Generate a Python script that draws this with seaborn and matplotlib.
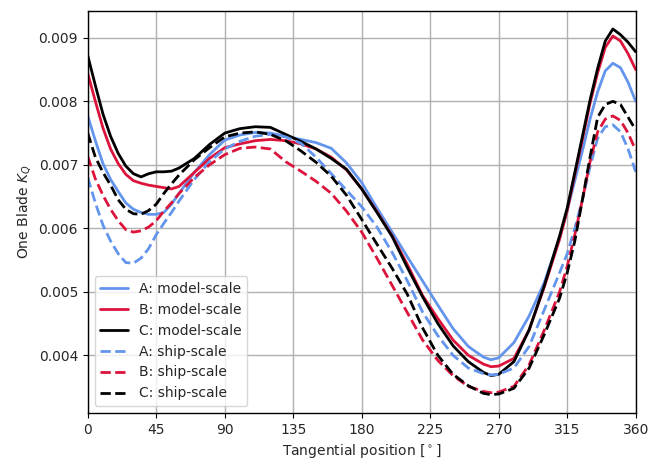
import numpy as np
import pandas as pd
import matplotlib
matplotlib.use("Agg")
import matplotlib.pyplot as plt
import seaborn as sns

angle = [0, 5, 10, 15, 20, 25, 30, 35, 40, 45, 50, 55, 60, 70, 80, 90, 100, 110, 120,
         130, 140, 150, 160, 170, 180, 190, 200, 210, 220, 230, 240, 250, 260, 265, 270,
         280, 290, 300, 310, 315, 320, 325, 330, 335, 340, 345, 350, 355, 360]

a_model = [0.00777, 0.00738, 0.00702, 0.00677, 0.00658, 0.00640, 0.00630, 0.00625, 0.00622, 0.00622,
           0.00625, 0.00638, 0.00655, 0.00688, 0.00716, 0.00739, 0.00747, 0.00751, 0.00750,
           0.00745, 0.00740, 0.00735, 0.00726, 0.00703, 0.00672, 0.00632, 0.00594, 0.00555,
           0.00517, 0.00479, 0.00442, 0.00414, 0.00397, 0.00393, 0.00396,
           0.00420, 0.00462, 0.00515, 0.00585, 0.00628, 0.00675, 0.00722, 0.00772, 0.00815,
           0.00848, 0.00860, 0.00853, 0.00830, 0.00800]

b_model = [0.00844, 0.00800, 0.00758, 0.00725, 0.00702, 0.00685, 0.00675, 0.00671, 0.00668, 0.00666,
           0.00664, 0.00662, 0.00666, 0.00688, 0.00710, 0.00727, 0.00733, 0.00738, 0.00740,
           0.00738, 0.00733, 0.00725, 0.00712, 0.00692, 0.00662, 0.00626, 0.00588, 0.00543,
           0.00494, 0.00458, 0.00424, 0.00400, 0.00386, 0.00382, 0.00383,
           0.00395, 0.00440, 0.00508, 0.00583, 0.00628, 0.00685, 0.00740, 0.00797, 0.00845,
           0.00885, 0.00903, 0.00895, 0.00875, 0.00850]

c_model = [0.00872, 0.00825, 0.00780, 0.00745, 0.00718, 0.00698, 0.00686, 0.00681, 0.00686, 0.00689,
           0.00689, 0.00690, 0.00695, 0.00710, 0.00732, 0.00750, 0.00757, 0.00760, 0.00759,
           0.00748, 0.00737, 0.00725, 0.00710, 0.00693, 0.00662, 0.00625, 0.00587, 0.00538,
           0.00492, 0.00450, 0.00415, 0.00390, 0.00373, 0.00368, 0.00370,
           0.00390, 0.00440, 0.00510, 0.00588, 0.00632, 0.00688, 0.00745, 0.00802, 0.00852,
           0.00895, 0.00914, 0.00905, 0.00893, 0.00878]

a_ship = [0.00680, 0.00640, 0.00605, 0.00580, 0.00560, 0.00546, 0.00545, 0.00553, 0.00568, 0.00590,
          0.00608, 0.00625, 0.00643, 0.00677, 0.00705, 0.00725, 0.00737, 0.00745, 0.00748,
          0.00744, 0.00734, 0.00712, 0.00686, 0.00660, 0.00634, 0.00602, 0.00562, 0.00517,
          0.00468, 0.00431, 0.00400, 0.00380, 0.00371, 0.00369, 0.00370,
          0.00380, 0.00414, 0.00472, 0.00530, 0.00560, 0.00600, 0.00645, 0.00697, 0.00742,
          0.00760, 0.00763, 0.00752, 0.00725, 0.00689]

b_ship = [0.00713, 0.00678, 0.00652, 0.00630, 0.00612, 0.00598, 0.00594, 0.00596, 0.00602, 0.00612,
          0.00627, 0.00640, 0.00655, 0.00680, 0.00700, 0.00716, 0.00726, 0.00728, 0.00725,
          0.00705, 0.00690, 0.00674, 0.00655, 0.00627, 0.00594, 0.00553, 0.00510, 0.00467,
          0.00424, 0.00392, 0.00368, 0.00351, 0.00343, 0.00341, 0.00342,
          0.00351, 0.00385, 0.00440, 0.00500, 0.00540, 0.00590, 0.00645, 0.00705, 0.00752,
          0.00772, 0.00777, 0.00770, 0.00750, 0.00723]

c_ship = [0.00750, 0.00712, 0.00688, 0.00668, 0.00645, 0.00630, 0.00623, 0.00622, 0.00628, 0.00638,
          0.00655, 0.00670, 0.00684, 0.00708, 0.00727, 0.00744, 0.00750, 0.00752, 0.00748,
          0.00738, 0.00722, 0.00704, 0.00682, 0.00652, 0.00614, 0.00575, 0.00537, 0.00496,
          0.00443, 0.00400, 0.00370, 0.00352, 0.00340, 0.00338, 0.00339,
          0.00348, 0.00380, 0.00433, 0.00490, 0.00530, 0.00580, 0.00645, 0.00712, 0.00775,
          0.00795, 0.00800, 0.00795, 0.00775, 0.00755]

labels = ["A: model-scale", "B: model-scale", "C: model-scale",
          "A: ship-scale", "B: ship-scale", "C: ship-scale"]
series = [a_model, b_model, c_model, a_ship, b_ship, c_ship]
colors = ["cornflowerblue", "crimson", "black", "cornflowerblue", "crimson", "black"]
styles = ["-", "-", "-", "--", "--", "--"]

sns.set_style("ticks")
plt.rcParams["font.family"] = ["DejaVu Sans"]

fig, ax = plt.subplots(figsize=(6.5, 4.65), dpi=100)
fig.subplots_adjust(left=0.135, right=0.978, top=0.977, bottom=0.112)

for lab, vals, col, ls in zip(labels, series, colors, styles):
    df = pd.DataFrame({"angle": angle, "kq": vals})
    sns.lineplot(data=df, x="angle", y="kq", ax=ax, color=col, linestyle=ls,
                 linewidth=2, label=lab)

ax.set_xlim(0, 360)
ax.set_xticks(np.arange(0, 361, 45))
ax.set_yticks([0.004, 0.005, 0.006, 0.007, 0.008, 0.009])
ax.grid(True, color="#b0b0b0", linewidth=1)
for s in ax.spines.values():
    s.set_visible(True)
    s.set_color("black")
    s.set_linewidth(1)
ax.tick_params(axis="both", labelsize=10, direction="out", length=3.5, color="black")
ax.set_xlabel("Tangential position [$^\\circ$]", fontsize=10)
ax.set_ylabel("One Blade $K_Q$", fontsize=10)
leg = ax.legend(loc="lower left", fontsize=10, frameon=True)
for h in leg.get_lines():
    h.set_linewidth(2)

fig.savefig("out.png", dpi=100)
